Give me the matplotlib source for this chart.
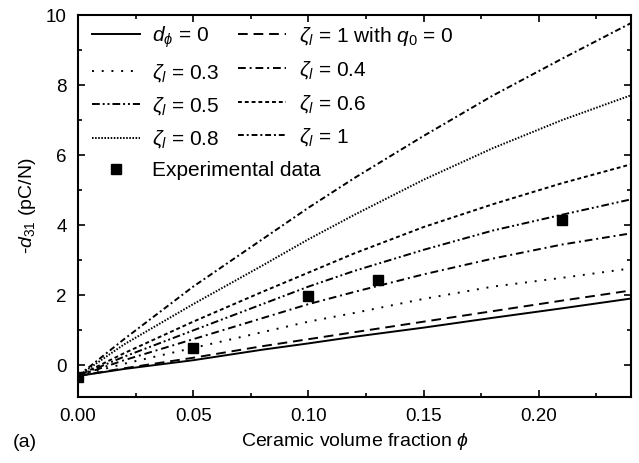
import numpy as np
import matplotlib
matplotlib.use("Agg")
import matplotlib.pyplot as plt
from matplotlib.ticker import MultipleLocator

plt.rcParams['font.family'] = ['Liberation Sans', 'DejaVu Sans']
plt.rcParams['mathtext.fontset'] = 'custom'
plt.rcParams['mathtext.rm'] = 'Liberation Sans'
plt.rcParams['mathtext.it'] = 'Liberation Sans:italic'

# ceramic volume fraction
phi = [0.0, 0.02, 0.05, 0.08, 0.10, 0.12, 0.15, 0.18, 0.21, 0.24]

# -d31 (pC/N)
d_zero = [-0.3, -0.1, 0.15, 0.45, 0.63, 0.82, 1.08, 1.36, 1.63, 1.91]
z1_q0 = [-0.3, -0.08, 0.22, 0.55, 0.75, 0.95, 1.25, 1.55, 1.85, 2.14]
z03 = [-0.3, 0.05, 0.5, 0.95, 1.25, 1.5, 1.9, 2.25, 2.5, 2.77]
z04 = [-0.3, 0.15, 0.75, 1.35, 1.75, 2.1, 2.6, 3.05, 3.45, 3.77]
z05 = [-0.3, 0.25, 1.0, 1.75, 2.25, 2.7, 3.3, 3.85, 4.3, 4.74]
z06 = [-0.3, 0.35, 1.25, 2.1, 2.65, 3.2, 3.95, 4.6, 5.2, 5.74]
z08 = [-0.3, 0.6, 1.75, 2.85, 3.6, 4.3, 5.3, 6.2, 7.0, 7.71]
z10 = [-0.3, 0.75, 2.25, 3.6, 4.5, 5.35, 6.55, 7.7, 8.75, 9.77]

# experimental points
exp_phi = [0.0, 0.05, 0.10, 0.13, 0.21]
exp_d31 = [-0.33, 0.5, 1.97, 2.45, 4.14]

fig = plt.figure(figsize=(6.39, 4.63), dpi=100)
ax = fig.add_axes([0.122, 0.1425, 0.8655, 0.8251])

lw = 1.4
l_d0, = ax.plot(phi, d_zero, color='black', lw=lw, ls='-', label=r'$d_{\phi}$ = 0')
l_q0, = ax.plot(phi, z1_q0, color='black', lw=lw, ls=(0, (5, 3)), label=r'$\zeta_l$ = 1 with $q_0$ = 0')
l03, = ax.plot(phi, z03, color='black', lw=lw, ls=(0, (1, 4)), label=r'$\zeta_l$ = 0.3')
l04, = ax.plot(phi, z04, color='black', lw=lw, ls=(0, (4, 2, 1, 2)), label=r'$\zeta_l$ = 0.4')
l05, = ax.plot(phi, z05, color='black', lw=lw, ls=(0, (4, 1.5, 1, 1.5, 1, 1.5)), label=r'$\zeta_l$ = 0.5')
l06, = ax.plot(phi, z06, color='black', lw=lw, ls=(0, (2, 1.5)), label=r'$\zeta_l$ = 0.6')
l08, = ax.plot(phi, z08, color='black', lw=lw, ls=(0, (0.8, 0.8)), label=r'$\zeta_l$ = 0.8')
l10, = ax.plot(phi, z10, color='black', lw=lw, ls=(0, (3, 1.5, 1, 1.5)), label=r'$\zeta_l$ = 1')
sq, = ax.plot(exp_phi, exp_d31, ls='none', marker='s', ms=7.5, color='black',
              label='Experimental data')

ax.set_xlim(0, 0.24)
ax.set_ylim(-0.9, 10)
ax.xaxis.set_major_locator(MultipleLocator(0.05))
ax.xaxis.set_minor_locator(MultipleLocator(0.025))
ax.yaxis.set_major_locator(MultipleLocator(2))
ax.yaxis.set_minor_locator(MultipleLocator(1))
ax.xaxis.set_major_formatter(plt.FuncFormatter(lambda v, p: '%.2f' % v))
ax.tick_params(which='both', direction='in', top=True, right=True, labelsize=13.5, width=1.2)
ax.tick_params(which='major', length=5, pad=8)
ax.tick_params(which='minor', length=3)
for s in ax.spines.values():
    s.set_linewidth(1.5)

ax.set_xlabel(r'Ceramic volume fraction $\phi$', fontsize=14, labelpad=4)
ax.set_ylabel(r'-$d_{31}$ (pC/N)', fontsize=14, labelpad=6)
fig.text(0.02, 0.035, '(a)', fontsize=14)

# model curves: two columns
handles = [l_d0, l03, l05, l08, l_q0, l04, l06, l10]
leg = ax.legend(handles=handles, ncol=2, loc='upper left', frameon=False, fontsize=15,
                handlelength=2.3, columnspacing=0.9, labelspacing=0.55, handletextpad=0.6,
                borderpad=0, borderaxespad=0, bbox_to_anchor=(0.025, 0.975))
ax.add_artist(leg)
# experimental data entry on its own row below
ax.legend(handles=[sq], loc='center left', frameon=False, fontsize=15,
          handlelength=2.3, handletextpad=0.6, borderpad=0, borderaxespad=0,
          bbox_to_anchor=(0.025, 0.592))

fig.savefig('out.png', dpi=100)
